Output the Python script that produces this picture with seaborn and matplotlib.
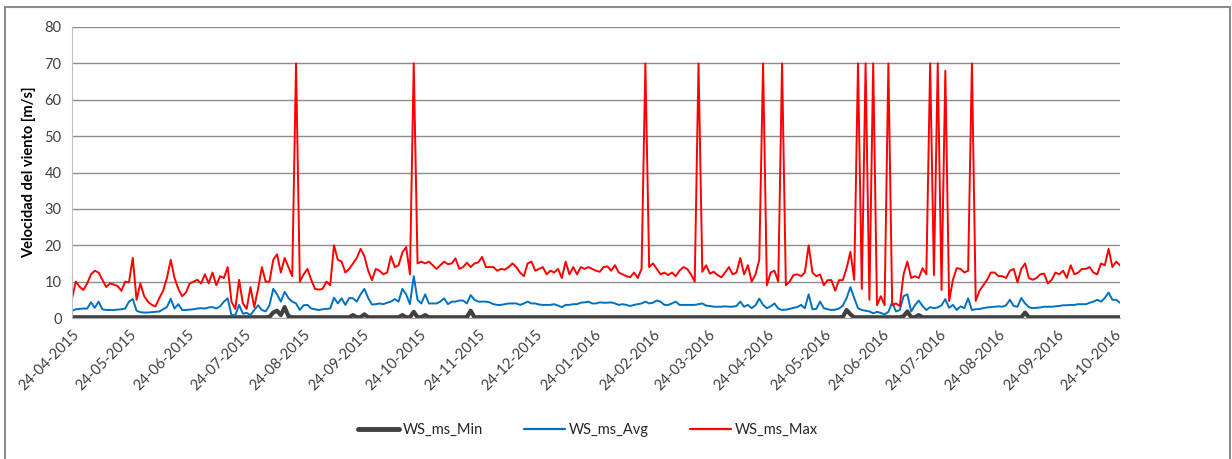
import matplotlib
matplotlib.use("Agg")
import pandas as pd
import matplotlib.pyplot as plt
import matplotlib.dates as mdates
from matplotlib.lines import Line2D
from matplotlib.patches import Rectangle
import seaborn as sns

# ==============================
# Data (one value every 2 days from 24-04-2015)
# ==============================
START_DATE = "2015-04-24"
STEP = "2D"

ws_max = [
    5.4, 10, 8.6, 7.7, 9.5, 12, 13, 12.5, 10.5, 8.5,
    9.5, 9.2, 8.8, 7.5, 10, 9.8, 16.5, 5, 9.5, 6,
    4.5, 3.6, 3.2, 5.5, 7.5, 11, 16, 11, 8, 6,
    7, 9.5, 10, 10.5, 9.5, 12, 9.5, 12.5, 9, 11.5,
    11, 14, 4.5, 2.5, 10.5, 4, 2.5, 8.5, 3, 8,
    14, 10, 10, 16, 17.5, 12.5, 16.5, 14, 11.5, 70,
    10, 12, 13.5, 10.5, 8, 7.8, 8, 10, 9, 20,
    16, 15.5, 12.5, 13.5, 15, 16.5, 19, 17, 13, 10.4,
    13.5, 13, 12, 12.5, 17, 14, 14.5, 18, 19.5, 12,
    70, 15, 15.5, 15, 15.5, 14.5, 13.5, 14.5, 15.5, 14.8,
    15, 16.4, 13.5, 14, 15.2, 14, 15, 15.3, 16.8, 14,
    14, 14, 13, 13.5, 13.3, 14, 15, 14, 12.5, 11.5,
    15, 15.5, 13, 13.5, 14, 12, 13, 12.5, 13.5, 11,
    15.5, 12, 14, 12, 14, 13.5, 14, 13.5, 13, 12.7,
    14, 14.2, 13, 14.5, 12.5, 12, 11.5, 11.2, 12.5, 11,
    13.5, 70, 14, 15, 13.5, 12, 12.5, 11.8, 12.5, 11.5,
    13, 14, 13.5, 12, 10, 70, 12.7, 14.5, 12.2, 12.7,
    11.8, 11.2, 12.5, 14, 12, 12.5, 16.5, 12, 14.5, 10,
    12, 16, 70, 9, 12.5, 13, 10, 70, 9, 10,
    11.8, 12, 11.5, 12.5, 20, 12.5, 11.5, 12, 9, 10.4,
    10.4, 7.5, 10.4, 10.4, 13.7, 18.2, 10.5, 70, 8, 70,
    5, 70, 3.5, 6, 3.5, 70, 3.5, 4, 3.3, 12,
    15.5, 11, 11.5, 11, 13.7, 12, 70, 11.8, 70, 7.7,
    68, 4.7, 10.5, 13.7, 13.5, 12.5, 13, 70, 4.7, 7.5,
    9, 10.5, 12.5, 12.5, 11.5, 11.5, 11, 13, 13.5, 9.8,
    13.5, 15, 11, 10.5, 11, 12, 12.2, 9.5, 10.5, 12.5,
    12, 13, 11, 14.5, 12, 12.5, 13.5, 13.5, 14, 12.5,
    12, 15, 14.5, 19, 14, 15.5, 14.5,
]

ws_avg = [
    2.0, 2.4, 2.5, 2.6, 2.6, 4.3, 2.8, 4.5, 2.4, 2.2,
    2.2, 2.2, 2.3, 2.4, 2.6, 4.5, 5.2, 2.0, 1.6, 1.5,
    1.5, 1.6, 1.7, 1.8, 2.4, 3.0, 5.3, 2.6, 3.8, 2.2,
    2.2, 2.3, 2.4, 2.6, 2.7, 2.6, 2.9, 3.0, 2.6, 3.2,
    4.5, 5.4, 0.8, 0.8, 3.6, 1.2, 1.4, 0.8, 2.2, 3.5,
    2.2, 1.8, 3.5, 8.0, 6.5, 4.5, 7.2, 5.5, 4.5, 4.0,
    2.2, 3.5, 3.6, 2.6, 2.4, 2.2, 2.4, 2.5, 2.6, 5.6,
    4.0, 5.4, 3.6, 5.5, 5.4, 4.5, 6.5, 8.0, 5.5, 3.7,
    3.8, 4.0, 3.8, 4.2, 4.5, 5.2, 4.5, 8.0, 6.5, 3.8,
    11.5, 5.0, 4.0, 6.5, 4.0, 4.0, 4.0, 4.5, 5.4, 3.8,
    4.5, 4.5, 4.8, 4.8, 4.0, 6.3, 5.0, 4.5, 4.5, 4.5,
    4.3, 3.8, 3.6, 3.6, 3.8, 4.0, 4.0, 4.0, 3.6, 4.0,
    4.5, 4.0, 4.0, 3.7, 3.6, 3.6, 3.6, 3.8, 3.4, 3.0,
    3.6, 3.6, 3.8, 3.8, 4.2, 4.3, 4.5, 4.0, 4.0, 4.3,
    4.2, 4.2, 4.3, 4.0, 3.6, 3.8, 3.6, 3.3, 3.6, 3.8,
    4.0, 4.5, 4.0, 4.2, 4.8, 4.5, 3.6, 3.6, 4.0, 4.5,
    3.6, 3.6, 3.6, 3.6, 3.6, 3.8, 4.0, 3.4, 3.3, 3.1,
    3.1, 3.1, 3.2, 3.1, 3.1, 3.3, 4.5, 3.1, 3.6, 2.7,
    3.5, 5.3, 3.6, 2.7, 3.2, 4.0, 2.6, 2.2, 2.3, 2.5,
    2.8, 3.0, 3.6, 2.7, 6.5, 2.4, 2.5, 4.5, 2.7, 2.4,
    2.2, 2.3, 2.6, 3.4, 5.5, 8.5, 5.5, 2.7, 2.2, 2.0,
    1.8, 1.3, 1.7, 1.4, 1.0, 1.7, 4.3, 1.8, 2.2, 6.0,
    6.5, 1.8, 3.5, 4.8, 3.3, 2.2, 3.0, 2.7, 2.9, 3.5,
    5.2, 2.8, 3.6, 2.2, 3.2, 2.7, 5.4, 2.2, 2.4, 2.5,
    2.7, 2.9, 3.0, 3.1, 3.2, 3.1, 3.5, 5.0, 3.3, 3.1,
    5.5, 4.0, 3.0, 2.7, 2.8, 2.9, 3.1, 3.1, 3.1, 3.2,
    3.3, 3.5, 3.5, 3.6, 3.6, 3.8, 3.8, 3.8, 4.2, 4.5,
    5.0, 4.5, 5.5, 7.0, 5.0, 5.0, 4.2,
]

ws_min = [
    0.2, 0.2, 0.2, 0.2, 0.2, 0.2, 0.2, 0.2, 0.2, 0.2,
    0.2, 0.2, 0.2, 0.2, 0.2, 0.2, 0.2, 0.2, 0.2, 0.2,
    0.2, 0.2, 0.2, 0.2, 0.2, 0.2, 0.2, 0.2, 0.2, 0.2,
    0.2, 0.2, 0.2, 0.2, 0.2, 0.2, 0.2, 0.2, 0.2, 0.2,
    0.2, 0.2, 0.2, 0.2, 0.2, 0.2, 0.2, 0.2, 0.2, 0.2,
    0.2, 0.2, 0.3, 1.5, 2.0, 0.8, 3.0, 0.5, 0.2, 0.2,
    0.2, 0.2, 0.2, 0.2, 0.2, 0.2, 0.2, 0.2, 0.2, 0.2,
    0.2, 0.2, 0.2, 0.2, 0.8, 0.2, 0.2, 1.0, 0.2, 0.2,
    0.2, 0.2, 0.2, 0.2, 0.2, 0.2, 0.2, 0.8, 0.2, 0.2,
    1.7, 0.2, 0.2, 0.8, 0.2, 0.2, 0.2, 0.2, 0.2, 0.2,
    0.2, 0.2, 0.2, 0.2, 0.2, 2.0, 0.2, 0.2, 0.2, 0.2,
    0.2, 0.2, 0.2, 0.2, 0.2, 0.2, 0.2, 0.2, 0.2, 0.2,
    0.2, 0.2, 0.2, 0.2, 0.2, 0.2, 0.2, 0.2, 0.2, 0.2,
    0.2, 0.2, 0.2, 0.2, 0.2, 0.2, 0.2, 0.2, 0.2, 0.2,
    0.2, 0.2, 0.2, 0.2, 0.2, 0.2, 0.2, 0.2, 0.2, 0.2,
    0.2, 0.2, 0.2, 0.2, 0.2, 0.2, 0.2, 0.2, 0.2, 0.2,
    0.2, 0.2, 0.2, 0.2, 0.2, 0.2, 0.2, 0.2, 0.2, 0.2,
    0.2, 0.2, 0.2, 0.2, 0.2, 0.2, 0.2, 0.2, 0.2, 0.2,
    0.2, 0.2, 0.2, 0.2, 0.2, 0.2, 0.2, 0.2, 0.2, 0.2,
    0.2, 0.2, 0.2, 0.2, 0.2, 0.2, 0.2, 0.2, 0.2, 0.2,
    0.2, 0.2, 0.2, 0.3, 2.2, 1.0, 0.2, 0.2, 0.2, 0.2,
    0.2, 0.2, 0.2, 0.2, 0.2, 0.2, 0.2, 0.2, 0.2, 0.5,
    1.8, 0.2, 0.2, 0.8, 0.2, 0.2, 0.2, 0.2, 0.2, 0.2,
    0.2, 0.2, 0.2, 0.2, 0.2, 0.2, 0.2, 0.2, 0.2, 0.2,
    0.2, 0.2, 0.2, 0.2, 0.2, 0.2, 0.2, 0.2, 0.2, 0.2,
    0.2, 1.5, 0.2, 0.2, 0.2, 0.2, 0.2, 0.2, 0.2, 0.2,
    0.2, 0.2, 0.2, 0.2, 0.2, 0.2, 0.2, 0.2, 0.2, 0.2,
    0.2, 0.2, 0.2, 0.2, 0.2, 0.2, 0.2,
]

tick_dates = [
    "24-04-2015", "24-05-2015", "24-06-2015", "24-07-2015", "24-08-2015",
    "24-09-2015", "24-10-2015", "24-11-2015", "24-12-2015", "24-01-2016",
    "24-02-2016", "24-03-2016", "24-04-2016", "24-05-2016", "24-06-2016",
    "24-07-2016", "24-08-2016", "24-09-2016", "24-10-2016",
]

series_names = ["WS_ms_Min", "WS_ms_Avg", "WS_ms_Max"]
series_colors = ["#404040", "#0070C0", "#FF0000"]
series_widths = [3.0, 1.4, 1.4]

# ==============================
# Build long-form frame
# ==============================
dates = pd.date_range(START_DATE, periods=len(ws_max), freq=STEP)
df = pd.DataFrame({
    "fecha": dates,
    "WS_ms_Min": ws_min,
    "WS_ms_Avg": ws_avg,
    "WS_ms_Max": ws_max,
})
long_df = df.melt(id_vars="fecha", var_name="serie", value_name="valor")

# ==============================
# Plot
# ==============================
sns.set_style("white")
plt.rcParams["font.family"] = ["Lato", "DejaVu Sans"]

W, H = 1232, 459
fig = plt.figure(figsize=(W / 100, H / 100), dpi=100)
ax = fig.add_axes([72 / W, 1 - 318 / H, (1120 - 72) / W, (318 - 27) / H])

sns.lineplot(
    data=long_df, x="fecha", y="valor", hue="serie", hue_order=series_names,
    palette=dict(zip(series_names, series_colors)),
    size="serie", sizes=dict(zip(series_names, series_widths)),
    legend=False, ax=ax,
)

ax.set_xlim(dates[0], dates[-1])
ax.set_ylim(0, 80)
ax.set_yticks(range(0, 81, 10))
ax.yaxis.grid(True, color="#8c8c8c", linewidth=1.0)
ax.set_axisbelow(True)

ticks = pd.to_datetime(tick_dates, format="%d-%m-%Y")
ax.set_xticks(ticks)
ax.xaxis.set_major_formatter(mdates.DateFormatter("%d-%m-%Y"))
plt.setp(ax.get_xticklabels(), rotation=45, ha="right", rotation_mode="anchor")

ax.tick_params(axis="both", labelsize=10.5, colors="#404040", length=4,
               width=1, direction="out")
ax.tick_params(axis="both", color="#a6a6a6")
ax.tick_params(axis="x", pad=3)

for side in ["top", "right"]:
    ax.spines[side].set_visible(False)
ax.spines["left"].set_color("#bfbfbf")
ax.spines["bottom"].set_color("#a6a6a6")

ax.set_xlabel("")
ax.set_ylabel("Velocidad del viento [m/s]", fontsize=10.5, fontweight="bold",
              color="black", labelpad=6)

handles = [Line2D([], [], color=c, lw=w) for c, w in zip(series_colors, [3.5, 1.6, 1.6])]
fig.legend(handles, series_names, loc="center", bbox_to_anchor=(588 / W, 1 - 430 / H),
           ncol=3, frameon=False, fontsize=10.5, handlelength=2.8,
           handletextpad=0.3, columnspacing=2.8)

# Outer chart frame
fig.patches.append(Rectangle((5 / W, -0.02), (1230 - 5) / W, 1.02 - 7 / H,
                             transform=fig.transFigure, fill=False,
                             edgecolor="#8c8c8c", linewidth=1.5))

fig.savefig("out.png", dpi=100)
